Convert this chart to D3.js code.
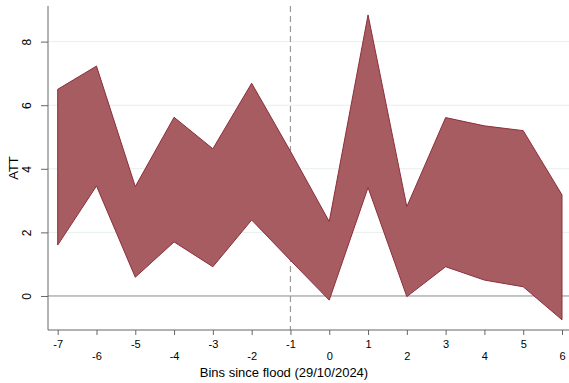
<!DOCTYPE html>
<html>
<head>
<meta charset="utf-8">
<script src="https://cdn.jsdelivr.net/npm/d3@7"></script>
<style>
  body { margin: 0; background: #fff; }
  svg { font-family: "Liberation Sans", Arial, sans-serif; }
</style>
</head>
<body>
<script>
// bins since flood, with the upper and lower band edges
var bins  = [-7, -6, -5, -4, -3, -2, -1, 0, 1, 2, 3, 4, 5, 6];
var upper = [6.50, 7.23, 3.44, 5.62, 4.63, 6.69, 4.55, 2.34, 8.84, 2.81, 5.61, 5.35, 5.20, 3.18];
var lower = [1.60, 3.46, 0.59, 1.70, 0.92, 2.39, 1.12, -0.13, 3.41, -0.02, 0.92, 0.50, 0.29, -0.75];
var yTicks = [0, 2, 4, 6, 8];

var width = 569, height = 383;
var plotLeft = 48, plotTop = 6, plotBottom = 330;

var data = bins.map(function(b, i) { return {bin: b, hi: upper[i], lo: lower[i]}; });

var svg = d3.select("body").append("svg")
  .attr("width", width)
  .attr("height", height);

var x = d3.scaleLinear()
  .domain([-7, 6])
  .range([57.7, 562]);

var y = d3.scaleLinear()
  .domain([-1.07, 9.12])
  .range([plotBottom, plotTop]);

// gridlines
svg.append("g")
  .selectAll("line")
  .data(yTicks.filter(function(d) { return d !== 0; }))
  .enter().append("line")
    .attr("x1", plotLeft)
    .attr("x2", width)
    .attr("y1", function(d) { return y(d); })
    .attr("y2", function(d) { return y(d); })
    .attr("stroke", "#e6eff0")
    .attr("stroke-width", 1);

// zero line
svg.append("line")
  .attr("x1", plotLeft).attr("x2", width)
  .attr("y1", y(0)).attr("y2", y(0))
  .attr("stroke", "#8a8a8a")
  .attr("stroke-width", 1);

// flood reference line
svg.append("line")
  .attr("x1", x(-1)).attr("x2", x(-1))
  .attr("y1", plotTop).attr("y2", plotBottom)
  .attr("stroke", "#999")
  .attr("stroke-width", 1.2)
  .attr("stroke-dasharray", "6,4");

// confidence band
var area = d3.area()
  .x(function(d) { return x(d.bin); })
  .y0(function(d) { return y(d.lo); })
  .y1(function(d) { return y(d.hi); });

svg.append("path")
  .datum(data)
  .attr("d", area)
  .attr("fill", "#a65c61")
  .attr("stroke", "#8c2f3a")
  .attr("stroke-width", 1)
  .attr("stroke-linejoin", "miter");

// y axis
var yAxis = d3.axisLeft(y)
  .tickValues(yTicks)
  .tickSize(7)
  .tickFormat(function(d) { return String(d); });

var gy = svg.append("g")
  .attr("transform", "translate(" + plotLeft + ",0)")
  .call(yAxis);
gy.select(".domain").attr("d", "M0," + plotTop + "V" + plotBottom).attr("stroke", "#666");
gy.selectAll(".tick line").attr("stroke", "#666");
gy.selectAll(".tick text")
  .attr("transform", "translate(-17,0) rotate(-90)")
  .attr("x", 0)
  .attr("y", 0)
  .attr("dy", "0")
  .style("text-anchor", "middle")
  .style("font-size", "12px")
  .attr("fill", "#000");

// x axis
var xAxis = d3.axisBottom(x)
  .tickValues(bins)
  .tickSize(5)
  .tickFormat(function(d) { return String(d); });

var gx = svg.append("g")
  .attr("transform", "translate(0," + plotBottom + ")")
  .call(xAxis);
gx.select(".domain").attr("d", "M" + plotLeft + ",0H" + width).attr("stroke", "#666");
gx.selectAll(".tick line").attr("stroke", "#666");
gx.selectAll(".tick text")
  .attr("y", function(d, i) { return i % 2 === 0 ? 10 : 22; })
  .attr("dy", "0.71em")
  .style("font-size", "11px")
  .attr("fill", "#000");

// axis titles
svg.append("text")
  .attr("transform", "translate(18," + ((plotTop + plotBottom) / 2) + ") rotate(-90)")
  .style("text-anchor", "middle")
  .style("font-size", "13px")
  .text("ATT");

svg.append("text")
  .attr("x", 284)
  .attr("y", 377)
  .style("text-anchor", "middle")
  .style("font-size", "13px")
  .text("Bins since flood (29/10/2024)");
</script>
</body>
</html>
